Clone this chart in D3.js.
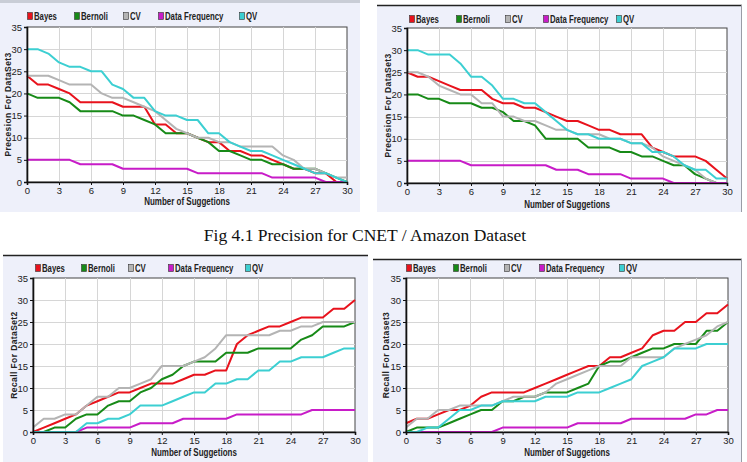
<!DOCTYPE html>
<html><head><meta charset="utf-8">
<script src="https://cdn.jsdelivr.net/npm/d3@7/dist/d3.min.js"></script>
<style>body{margin:0;background:#fff}svg{display:block}</style>
</head><body><svg id="c" width="747" height="462"></svg>
<script>
// ---------- data ----------
const suggestions = [0,1,2,3,4,5,6,7,8,9,10,11,12,13,14,15,16,17,18,19,20,21,22,23,24,25,26,27,28,29,30];
const seriesNames = ["Bayes","Bernoli","CV","Data Frequency","QV"];
const seriesColors = ["#e8121c","#178a17","#b4b4b4","#c81cc8","#3ccfd2"];
const xTickValues = [0,3,6,9,12,15,18,21,24,27,30];
const yTickValues = [0,5,10,15,20,25,30,35];
const xTitle = "Number of Suggetions";
const caption = "Fig 4.1 Precision for CNET / Amazon Dataset";

// Chart 1: precision (top-left)
const precA_Bayes = [24,22,22,21,20,18,18,18,18,17,17,17,13,13,11,11,10,9,9,7,7,6,6,5,4,3,3,2,2,0,0];
const precA_Bernoli = [20,19,19,19,18,16,16,16,16,15,15,14,13,11,11,11,10,9,7,7,6,5,5,4,4,3,3,3,2,1,0];
const precA_CV = [24,24,24,23,22,22,22,20,19,19,18,17,16,14,12,11,10,10,9,9,8,8,8,8,6,5,3,3,2,1,1];
const precA_DF = [5,5,5,5,5,4,4,4,4,3,3,3,3,3,3,3,2,2,2,2,2,2,2,1,1,1,1,1,0,0,0];
const precA_QV = [30,30,29,27,26,26,25,25,22,21,19,19,16,15,15,14,14,11,11,9,8,7,7,6,5,4,3,2,2,1,0];

// Chart 2: precision (top-right)
const precB_Bayes = [25,24,24,23,22,21,21,21,19,18,18,17,17,16,15,14,14,13,12,12,11,11,11,8,7,6,6,6,5,3,1];
const precB_Bernoli = [20,20,19,19,18,18,18,17,17,16,14,14,13,10,10,10,10,8,8,8,7,7,6,6,5,4,4,2,1,0,0];
const precB_CV = [25,25,24,22,21,20,20,18,18,15,15,14,14,13,12,12,11,11,11,10,10,9,9,8,6,5,4,3,1,0,0];
const precB_DF = [5,5,5,5,5,5,4,4,4,4,4,4,4,4,3,3,3,2,2,2,2,1,1,1,1,0,0,0,0,0,0];
const precB_QV = [30,30,29,29,29,27,24,24,22,19,19,18,18,16,14,12,11,11,10,10,10,9,9,7,7,6,4,3,3,1,1];

// Chart 3: recall (bottom-left)
const recA_Bayes = [0,1,2,3,4,6,7,8,9,9,10,11,11,11,12,13,13,14,14,20,22,23,24,24,25,26,26,26,28,28,30];
const recA_Bernoli = [0,0,1,1,3,4,4,6,7,7,9,10,12,13,15,16,16,16,18,18,18,19,19,19,19,21,22,24,24,24,25];
const recA_CV = [1,3,3,4,4,6,8,8,10,10,11,12,15,15,15,16,17,19,22,22,22,22,22,23,23,24,24,25,25,25,25];
const recA_DF = [0,0,0,0,0,1,1,1,1,1,2,2,2,2,3,3,3,3,3,4,4,4,4,4,4,4,5,5,5,5,5];
const recA_QV = [0,0,0,0,0,2,2,3,3,4,6,6,6,7,8,9,9,11,11,12,12,14,14,16,16,17,17,17,18,19,19];

// Chart 4: recall (bottom-right)
const recB_Bayes = [2,3,3,4,5,5,6,8,9,9,9,9,10,11,12,13,14,15,15,17,17,18,19,22,23,23,25,25,27,27,29];
const recB_Bernoli = [0,1,1,1,2,3,4,5,5,7,7,8,8,9,9,9,10,11,15,16,16,17,18,19,19,20,20,20,23,23,25];
const recB_CV = [1,3,3,5,5,6,6,6,6,7,8,8,8,9,11,12,13,14,15,15,15,17,17,17,17,19,20,21,22,24,25];
const recB_DF = [0,0,0,0,0,0,0,0,0,1,1,1,1,1,1,1,2,2,2,2,2,3,3,3,3,3,3,4,4,5,5];
const recB_QV = [0,0,1,1,3,5,5,6,6,7,7,7,7,8,8,8,9,9,9,10,11,12,15,16,17,19,19,19,20,20,20];

// ---------- layout ----------
const svg = d3.select("#c");
const panels = [
  {bg:[0,0,360,212], plot:[27,27,347,182], legY:16, legX:[30,77,126,161,242],
   yTitle:"Precesion For DataSet3", yTitleX:9, xTitleY:205,
   data:[precA_Bayes,precA_Bernoli,precA_CV,precA_DF,precA_QV]},
  {bg:[377,5,742,212], plot:[407,28,727,183], legY:19, legX:[412,459,508,546,619],
   yTitle:"Precesion For DataSet3", yTitleX:389, xTitleY:208,
   data:[precB_Bayes,precB_Bernoli,precB_CV,precB_DF,precB_QV]},
  {bg:[3,255,368,462], plot:[33,278,355,432], legY:268, legX:[38,84,131,171,248],
   yTitle:"Recall For DataSet2", yTitleX:15, xTitleY:456,
   data:[recA_Bayes,recA_Bernoli,recA_CV,recA_DF,recA_QV]},
  {bg:[373,259,742,462], plot:[406,278,728,432], legY:268, legX:[409,456,507,542,622],
   yTitle:"Recall For Dataset3", yTitleX:387, xTitleY:456,
   data:[recB_Bayes,recB_Bernoli,recB_CV,recB_DF,recB_QV]}
];
const F = "'Liberation Sans',Arial,sans-serif";

panels.forEach((p,pi)=>{
  const g = svg.append("g");
  const [bx0,by0,bx1,by1] = p.bg;
  g.append("rect").attr("x",bx0).attr("y",by0).attr("width",bx1-bx0).attr("height",by1-by0)
    .attr("fill","#eef0fa");
  if(pi===0){
    g.append("rect").attr("x",0).attr("y",0).attr("width",360).attr("height",3).attr("fill","#c9cdd6");
  } else {
    g.append("line").attr("x1",bx0).attr("x2",bx1).attr("y1",by0+0.5).attr("y2",by0+0.5)
      .attr("stroke","#222").attr("stroke-width",1.5);
  }
  if(pi===1||pi===3){
    g.append("line").attr("x1",bx1-0.5).attr("x2",bx1-0.5).attr("y1",by0).attr("y2",by1)
      .attr("stroke","#9a9ca6").attr("stroke-width",1);
  }
  const [x0,y0,x1,y1] = p.plot;
  const x = d3.scaleLinear().domain([0,30]).range([x0,x1]);
  const y = d3.scaleLinear().domain([0,35]).range([y1,y0]);
  g.append("rect").attr("x",x0).attr("y",y0).attr("width",x1-x0).attr("height",y1-y0)
    .attr("fill","#fff").attr("stroke","#444").attr("stroke-width",1);
  // grid
  g.append("g").selectAll("line").data(xTickValues.slice(1,-1)).join("line")
    .attr("x1",d=>Math.round(x(d))+0.5).attr("x2",d=>Math.round(x(d))+0.5)
    .attr("y1",y0).attr("y2",y1).attr("stroke","#d6d6d6").attr("stroke-width",1);
  g.append("g").selectAll("line").data(yTickValues.slice(1,-1)).join("line")
    .attr("y1",d=>Math.round(y(d))+0.5).attr("y2",d=>Math.round(y(d))+0.5)
    .attr("x1",x0).attr("x2",x1).attr("stroke","#d6d6d6").attr("stroke-width",1);
  // lines
  const line = d3.line().x((d,i)=>x(suggestions[i])).y(d=>y(d));
  p.data.forEach((s,si)=>{
    g.append("path").datum(s).attr("d",line).attr("fill","none")
      .attr("stroke",seriesColors[si]).attr("stroke-width",2).attr("stroke-linejoin","round");
  });
  // axes
  const ax = g.append("g").attr("transform",`translate(0,${y1})`)
    .call(d3.axisBottom(x).tickValues(xTickValues).tickSize(3).tickPadding(2).tickFormat(d3.format("d")));
  const ay = g.append("g").attr("transform",`translate(${x0},0)`)
    .call(d3.axisLeft(y).tickValues(yTickValues).tickSize(3).tickPadding(2).tickFormat(d3.format("d")));
  [ax,ay].forEach(a=>{
    a.select(".domain").attr("stroke","#111").attr("stroke-width",1.6);
    a.selectAll(".tick line").attr("stroke","#111");
    a.selectAll(".tick text").attr("font-family",F).attr("font-size",9.5).attr("fill","#222");
  });
  // titles
  g.append("text").attr("transform",`translate(${(x0+x1)/2},${p.xTitleY}) scale(0.8,1)`)
    .attr("text-anchor","middle")
    .attr("font-family",F).attr("font-weight","bold").attr("font-size",10).attr("fill","#222").text(xTitle);
  g.append("text").attr("transform",`translate(${p.yTitleX},${(y0+y1)/2}) rotate(-90)`)
    .attr("text-anchor","middle").attr("dominant-baseline","middle")
    .attr("font-family",F).attr("font-weight","bold")
    .attr("font-size",8.5).attr("letter-spacing",0.4).attr("fill","#222").text(p.yTitle);
  // legend
  seriesNames.forEach((n,si)=>{
    const lx = p.legX[si];
    g.append("rect").attr("x",lx-2.5).attr("y",p.legY-3.5).attr("width",5).attr("height",7)
      .attr("fill",seriesColors[si]).attr("stroke","#333").attr("stroke-width",0.6);
    g.append("text").attr("transform",`translate(${lx+4},${p.legY+3.5}) scale(0.78,1)`)
      .attr("font-family",F)
      .attr("font-weight","bold").attr("font-size",10).attr("fill","#222").text(n);
  });
});

svg.append("text").attr("x",365).attr("y",241).attr("text-anchor","middle")
  .attr("font-family","'Liberation Serif','Times New Roman',serif").attr("font-size",17.5)
  .attr("fill","#111").text(caption);
</script></body></html>
